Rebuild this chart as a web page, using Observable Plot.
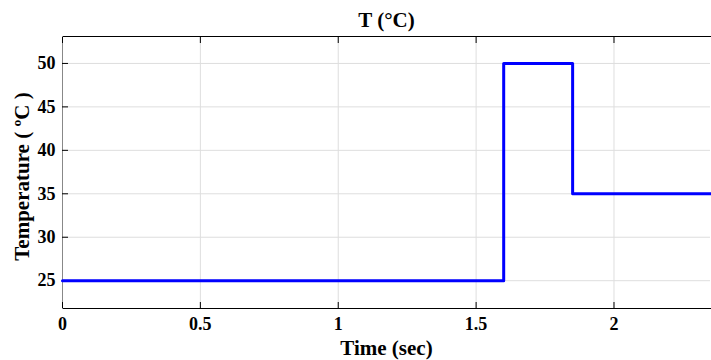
<!DOCTYPE html>
<html>
<head>
<meta charset="utf-8">
<script src="https://cdn.jsdelivr.net/npm/d3@7"></script>
<script src="https://cdn.jsdelivr.net/npm/@observablehq/plot@0.6"></script>
<style>
  html, body { margin: 0; padding: 0; background: #fff; }
</style>
</head>
<body>
<div id="chart"></div>
<script>
const time = [0, 1.6, 1.85, 2.35];
const temp = [25, 50, 35, 35];
const xTicks = [0, 0.5, 1, 1.5, 2];
const yTicks = [25, 30, 35, 40, 45, 50];
const titleText = ["T (°C)"];
const xLabel = ["Time (sec)"];
const yLabel = ["Temperature ( ºC )"];

const data = time.map((t, i) => ({t, v: temp[i]}));
const font = "'Liberation Serif', 'Times New Roman', serif";

const chart = Plot.plot({
  width: 711,
  height: 360,
  marginLeft: 62,
  marginRight: 1,
  marginTop: 36,
  marginBottom: 52,
  style: {fontFamily: font, fontWeight: "bold", fontSize: "18px", color: "#000", background: "#fff", overflow: "visible"},
  x: {domain: [0, 2.35]},
  y: {domain: [21.8, 53.1]},
  marks: [
    Plot.gridX(xTicks, {stroke: "#dedede", strokeOpacity: 1}),
    Plot.gridY(yTicks, {stroke: "#dedede", strokeOpacity: 1}),
    Plot.frame({anchor: "top", stroke: "#000"}),
    Plot.frame({anchor: "bottom", stroke: "#000"}),
    Plot.frame({anchor: "left", stroke: "#888"}),
    Plot.axisX(xTicks, {anchor: "bottom", tickSize: -6, tickPadding: 15, fontSize: 18, tickFormat: d => `${d}`, label: null}),
    Plot.axisX(xTicks, {anchor: "top", tickSize: -6, tickFormat: () => "", label: null}),
    Plot.axisY(yTicks, {anchor: "left", tickSize: -6, tickPadding: 13, fontSize: 18, tickFormat: d => `${d}`, label: null}),
    Plot.line(data, {x: "t", y: "v", curve: "step-after", stroke: "#0000ff", strokeWidth: 3}),
    Plot.text(titleText, {frameAnchor: "top", dy: -16, lineAnchor: "middle", fontSize: 21, fontWeight: "bold"}),
    Plot.text(xLabel, {frameAnchor: "bottom", dy: 40, lineAnchor: "middle", fontSize: 21, fontWeight: "bold"}),
    Plot.text(yLabel, {frameAnchor: "left", dx: -40, dy: 4, rotate: -90, textAnchor: "middle", lineAnchor: "middle", fontSize: 21, fontWeight: "bold"})
  ]
});
document.getElementById("chart").appendChild(chart);
</script>
</body>
</html>
